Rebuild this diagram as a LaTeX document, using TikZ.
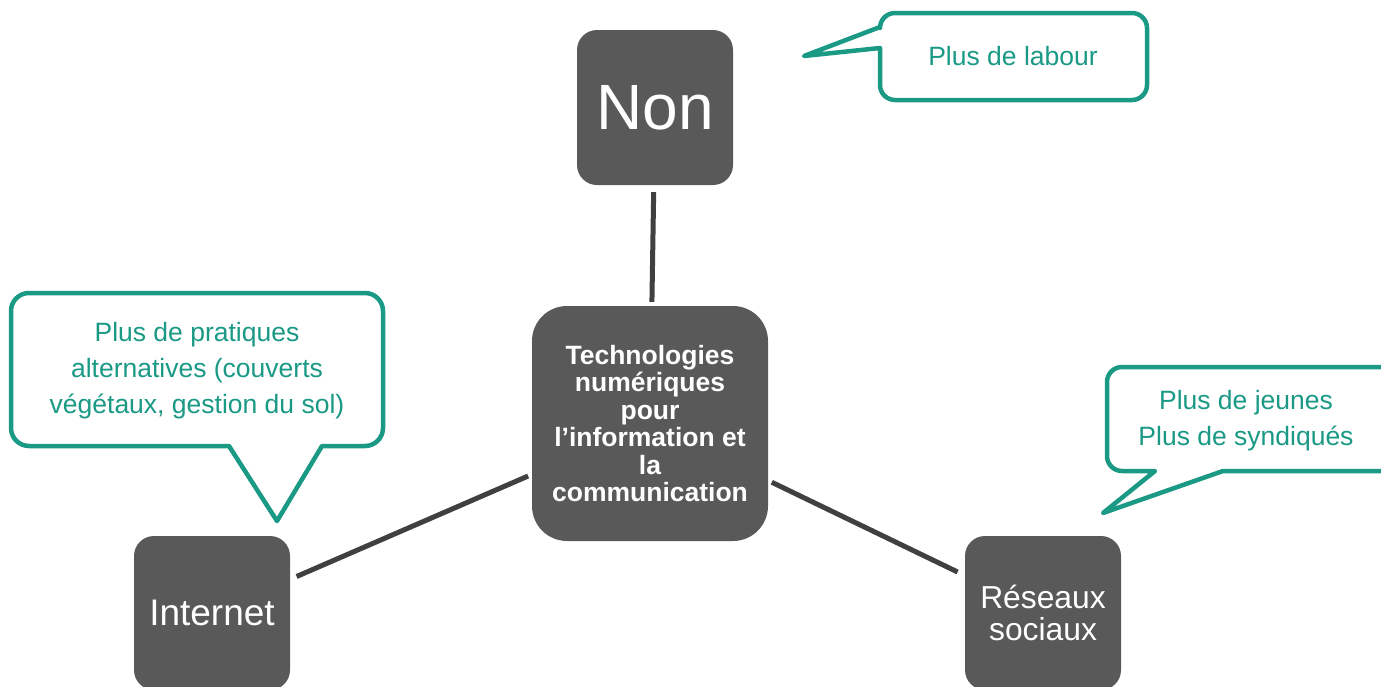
\documentclass[tikz,border=0pt]{standalone}
\usepackage{fontspec}
\setmainfont{Liberation Sans}
\definecolor{boxgray}{HTML}{595959}
\definecolor{linegray}{HTML}{404040}
\definecolor{teal1}{HTML}{1A9985}
\begin{document}
\begin{tikzpicture}[x=1pt,y=-1pt,
  darkbox/.style={rectangle, rounded corners=20pt, fill=boxgray, text=white, inner sep=0pt, align=center},
  conn/.style={draw=linegray, line width=5pt},
  callout/.style={draw=teal1, line width=4.5pt, line join=round, fill=white},
  calltext/.style={text=teal1, align=center, inner sep=0pt, font=\fontsize{26.5}{36}\selectfont}]
\useasboundingbox (0,0) rectangle (1381,686);
\fill[white] (0,0) rectangle (1381,686);

% main nodes
\node[darkbox, minimum width=156pt, minimum height=155pt, font=\fontsize{64}{70}\selectfont] (non) at (655,107.5) {Non};
\node[darkbox, rounded corners=35pt, minimum width=236pt, minimum height=235pt, font=\fontsize{26.5}{27.5}\selectfont\bfseries] (tic) at (650,423.5) {Technologies\\num\'eriques\\pour\\l’information et\\la\\communication};
\node[darkbox, minimum width=156pt, minimum height=154pt, font=\fontsize{37}{40}\selectfont] (internet) at (212,613) {Internet};
\node[darkbox, minimum width=156pt, minimum height=154pt, font=\fontsize{31.8}{31.5}\selectfont] (reseaux) at (1043,613) {R\'eseaux\\sociaux};

% connectors
\draw[conn, shorten <=7pt, shorten >=4pt] (non) -- (tic);
\draw[conn, shorten <=7pt, shorten >=4pt] (internet) -- (tic);
\draw[conn, shorten <=4pt, shorten >=8pt] (tic) -- (reseaux);

% callout top
\draw[callout] (804,56) -- (880,27) [rounded corners=15pt] -- (880,13) -- (1147,13) -- (1147,100) -- (880,100) [sharp corners] -- (880,48) -- cycle;
\node[calltext] (c1) at (1013,56) {Plus de labour};

% callout left
\draw[callout] (277,521) -- (229,446) [rounded corners=18pt] -- (11,446) -- (11,293) -- (383,293) -- (383,446) [sharp corners] -- (322,446) -- cycle;
\node[calltext] (c2) at (197,370.5) {Plus de pratiques\\alternatives (couverts\\v\'eg\'etaux, gestion du sol)};

% callout right
\draw[callout] (1103,513) -- (1155,471) [rounded corners=15pt] -- (1107,471) -- (1107,367) -- (1400,367) -- (1400,471) [sharp corners] -- (1223,471) -- cycle;
\node[calltext] (c3) at (1246,421) {Plus de jeunes\\Plus de syndiqu\'es};
\end{tikzpicture}
\end{document}
